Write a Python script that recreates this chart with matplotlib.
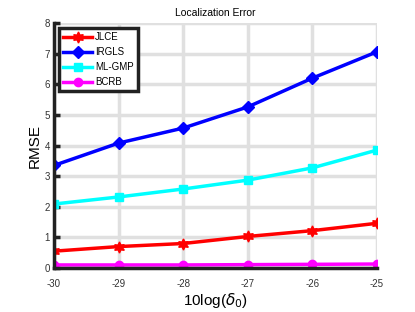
import matplotlib
matplotlib.use("Agg")
import matplotlib.pyplot as plt

plt.rcParams['font.family'] = ['Liberation Sans', 'DejaVu Sans']
plt.rcParams['axes.unicode_minus'] = False
plt.rcParams['mathtext.fontset'] = 'dejavusans'

# data
x = [-30, -29, -28, -27, -26, -25]
jlce = [0.55, 0.70, 0.80, 1.03, 1.22, 1.46]
irgls = [3.35, 4.08, 4.57, 5.26, 6.20, 7.06]
mlgmp = [2.09, 2.32, 2.58, 2.87, 3.27, 3.85]
bcrb = [0.10, 0.10, 0.10, 0.11, 0.12, 0.13]

fig = plt.figure(figsize=(4.15, 3.12), dpi=100)
ax = fig.add_axes([0.130, 0.141, 0.778, 0.785])

ax.plot(x, jlce, color="red", lw=2.5, marker=(6, 1, 0), ms=8, label="JLCE", zorder=3)
ax.plot(x, irgls, color="blue", lw=2.5, marker="D", ms=6, label="IRGLS", zorder=3)
ax.plot(x, mlgmp, color="cyan", lw=2.5, marker="s", ms=6, label="ML-GMP", zorder=3)
ax.plot(x, bcrb, color="magenta", lw=2.5, marker="o", ms=6, label="BCRB", zorder=3)

ax.set_xlim(-30, -25)
ax.set_ylim(0, 8)
ax.set_xticks(x)
ax.set_yticks(range(0, 9))
ax.grid(True, color="#e0e0e0", lw=2.5)
ax.set_axisbelow(True)

for s in ["top", "right"]:
    ax.spines[s].set_visible(False)
for s in ["left", "bottom"]:
    ax.spines[s].set_linewidth(2.5)
    ax.spines[s].set_color("#222222")
    ax.spines[s].set_zorder(4)

ax.tick_params(axis="both", direction="in", length=4, width=2.5, labelsize=7,
               colors="#222222", labelcolor="#333333", pad=3)
ax.tick_params(axis="x", length=0, pad=8)

ax.set_title("Localization Error", fontsize=7.5, pad=5)
ax.set_ylabel("RMSE", fontsize=11, labelpad=2)
ax.set_xlabel(r"10log($\delta_0$)", fontsize=11, labelpad=1)

leg = ax.legend(loc="upper left", fontsize=7, frameon=True, fancybox=False,
                borderpad=0.45, labelspacing=0.5, handlelength=3.0,
                handletextpad=0.3, borderaxespad=0.5)
leg.get_frame().set_edgecolor("#222222")
leg.get_frame().set_linewidth(2.5)
leg.get_frame().set_alpha(1)

fig.savefig("out.png", dpi=100)
